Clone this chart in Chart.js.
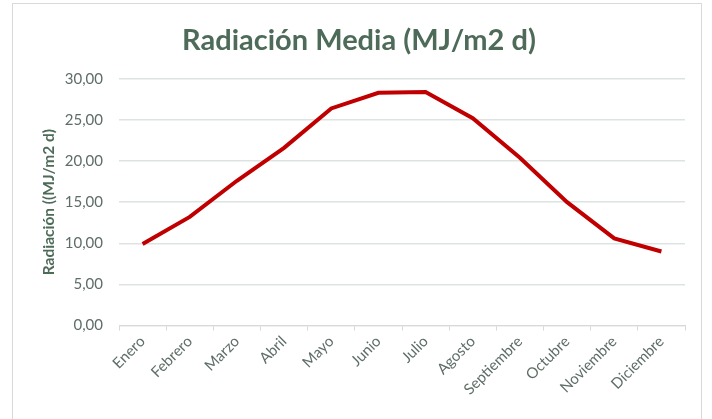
<!DOCTYPE html>
<html><head><meta charset="utf-8">
<script src="https://cdn.jsdelivr.net/npm/chart.js@4"></script>
<style>
html,body{margin:0;padding:0;background:#fff;}
#frame{position:absolute;left:12px;top:3px;width:690px;height:430px;border:1px solid #d9d9d9;box-sizing:border-box;}
#wrap{position:absolute;left:0;top:0;width:712px;height:419px;}
</style></head>
<body>
<div id="frame"></div>
<div id="wrap"><canvas id="c" width="712" height="419"></canvas></div>
<script>
const months = ['Enero','Febrero','Marzo','Abril','Mayo','Junio','Julio','Agosto','Septiembre','Octubre','Noviembre','Diciembre'];
const radiacion = [9.9, 13.2, 17.6, 21.6, 26.4, 28.3, 28.4, 25.2, 20.4, 15.0, 10.6, 9.0];
const yTicks = [0, 5, 10, 15, 20, 25, 30];
const titleText = 'Radiación Media (MJ/m2 d)';
const yTitle = 'Radiación ((MJ/m2 d)';

new Chart(document.getElementById('c'), {
  type: 'line',
  data: { labels: months, datasets: [{ data: radiacion, borderColor: '#C00000', borderWidth: 4, pointRadius: 0, tension: 0, fill: false }] },
  options: {
    responsive: false, animation: false,
    layout: { padding: { left: 33, right: 27, top: 23, bottom: 0 } },
    plugins: {
      legend: { display: false }, tooltip: { enabled: false },
      title: { display: true, text: titleText, color: '#4E6B5A', font: { family: 'Lato', size: 29, weight: 'bold' }, padding: { top: 0, bottom: 21 } }
    },
    scales: {
      x: {
        offset: true,
        afterFit: s => { s.height = 93.5; },
        grid: { display: true, offset: true, drawOnChartArea: false, drawTicks: true, tickLength: 5, color: '#d9d9d9' },
        border: { display: true, color: '#d9d9d9' },
        ticks: { color: '#5E6E66', font: { family: 'Lato', size: 15 }, minRotation: 45, maxRotation: 45, padding: 2 }
      },
      y: {
        min: 0, max: 30,
        afterBuildTicks: s => { s.ticks = yTicks.map(v => ({ value: v })); },
        afterFit: s => { s.width = 86; },
        grid: { color: '#dde3e0', lineWidth: 1.5, drawTicks: false },
        border: { display: false },
        ticks: { color: '#5E6E66', font: { family: 'Lato', size: 15 }, padding: 16, callback: v => v.toFixed(2).replace('.', ',') },
        title: { display: true, text: yTitle, color: '#4E6B5A', font: { family: 'Lato', size: 15.5, weight: 'bold' }, padding: { top: 7, bottom: 0 } }
      }
    }
  }
});
</script>
</body></html>
